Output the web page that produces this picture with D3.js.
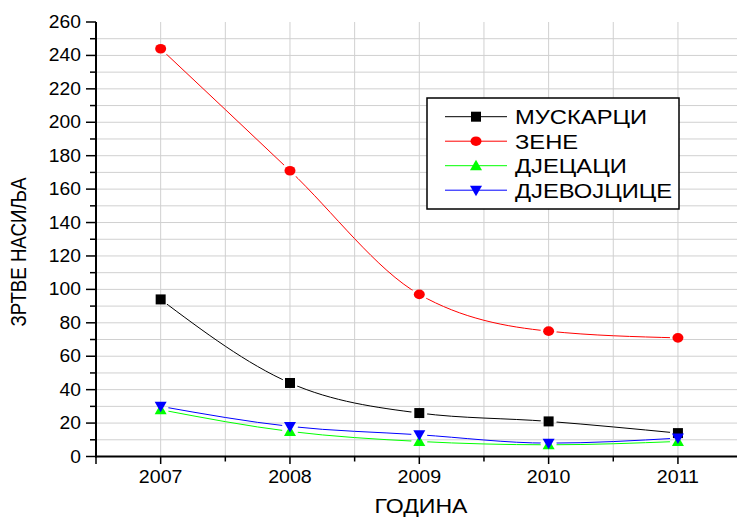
<!DOCTYPE html>
<html>
<head>
<meta charset="utf-8">
<script src="https://cdn.jsdelivr.net/npm/d3@7"></script>
<style>
  body { margin: 0; background: #fff; }
  svg text { font-family: "Liberation Sans", Arial, sans-serif; fill: #000; }
</style>
</head>
<body>
<div id="svg-container"></div>
<script>
let w = 737;
let h = 518;

// data
let years = [2007, 2008, 2009, 2010, 2011];
let muskarci = [94, 44, 26, 21, 14];
let zene = [244, 171, 97, 75, 71];
let djecaci = [28, 15, 9, 7, 9];
let djevojcice = [30, 18, 13, 8, 11];
let seriesNames = ['МУСКАРЦИ', 'ЗЕНЕ', 'ДЈЕЦАЦИ', 'ДЈЕВОЈЦИЦЕ'];
let seriesColors = ['#000000', '#ff0000', '#00ff00', '#0000ff'];
let seriesSymbols = ['square', 'circle', 'up', 'down'];
let yTicks = d3.range(0, 261, 20);
let yMinor = d3.range(10, 260, 20);

let series = [muskarci, zene, djecaci, djevojcice].map((vals, i) => ({
  name: seriesNames[i],
  color: seriesColors[i],
  symbol: seriesSymbols[i],
  points: vals.map((v, j) => ({year: years[j], value: v}))
}));

let x = d3.scaleLinear().domain([2006.5, 2011.5]).range([96, 742.6]);
let y = d3.scaleLinear().domain([0, 260]).range([456.5, 22]);

let svg = d3.select('#svg-container').
append('svg').
attr('width', w).
attr('height', h);

// origin draws its text a bit wider than Arial
function stretch(sel, k) {
  sel.each(function () {
    let len = this.getComputedTextLength();
    d3.select(this).attr('textLength', len * k).attr('lengthAdjust', 'spacingAndGlyphs');
  });
}

// grid
let grid = svg.append('g').attr('stroke', '#d0d0d0').attr('stroke-width', 1);
grid.selectAll('line.h').
data(d3.range(10, 260, 10)).
join('line').
attr('class', 'h').
attr('x1', 96).
attr('x2', w).
attr('y1', d => y(d)).
attr('y2', d => y(d));
grid.selectAll('line.v').
data(d3.range(2007, 2011.6, 0.5)).
join('line').
attr('class', 'v').
attr('x1', d => x(d)).
attr('x2', d => x(d)).
attr('y1', y(260)).
attr('y2', y(0));

// marker shapes
function symbolPath(type) {
  if (type === 'square') return 'M-5,-5H5V5H-5Z';
  if (type === 'circle') return 'M-5.5,0A5.5,4.8 0 1,0 5.5,0A5.5,4.8 0 1,0 -5.5,0Z';
  if (type === 'up') return 'M0,-6L6,4.5H-6Z';
  return 'M0,6L6,-4.5H-6Z';
}

let line = d3.line().
x(d => x(d.year)).
y(d => y(d.value)).
curve(d3.curveMonotoneX);

let defs = svg.append('defs');
series.forEach((s, i) => {
  let m = defs.append('mask').attr('id', 'gap' + i).attr('maskUnits', 'userSpaceOnUse');
  m.append('rect').attr('x', 0).attr('y', 0).attr('width', w).attr('height', h).attr('fill', '#fff');
  m.selectAll('circle').
  data(s.points).
  join('circle').
  attr('cx', d => x(d.year)).
  attr('cy', d => y(d.value)).
  attr('r', 8).
  attr('fill', '#000');
});

series.forEach((s, i) => {
  svg.append('path').
  datum(s.points).
  attr('d', line).
  attr('fill', 'none').
  attr('stroke', s.color).
  attr('stroke-width', 1).
  attr('mask', 'url(#gap' + i + ')');
});

series.forEach(s => {
  svg.append('g').
  selectAll('path').
  data(s.points).
  join('path').
  attr('transform', d => 'translate(' + x(d.year) + ',' + y(d.value) + ')').
  attr('d', symbolPath(s.symbol)).
  attr('fill', s.color);
});

// axes
let ax = svg.append('g').attr('stroke', '#000');
ax.append('line').attr('x1', 96).attr('x2', 96).attr('y1', y(260)).attr('y2', y(0) + 1).attr('stroke-width', 2);
ax.append('line').attr('x1', 95).attr('x2', w).attr('y1', y(0)).attr('y2', y(0)).attr('stroke-width', 2);
ax.selectAll('line.ymaj').
data(yTicks).
join('line').
attr('class', 'ymaj').
attr('x1', 86).attr('x2', 96).
attr('y1', d => y(d)).attr('y2', d => y(d)).
attr('stroke-width', 1.5);
ax.selectAll('line.ymin').
data(yMinor).
join('line').
attr('class', 'ymin').
attr('x1', 90).attr('x2', 96).
attr('y1', d => y(d)).attr('y2', d => y(d)).
attr('stroke-width', 1.5);
ax.selectAll('line.xmaj').
data(years.concat([2006.5])).
join('line').
attr('class', 'xmaj').
attr('x1', d => x(d)).attr('x2', d => x(d)).
attr('y1', y(0)).attr('y2', y(0) + 7.5).
attr('stroke-width', 1.5);
ax.selectAll('line.xmin').
data(d3.range(2007.5, 2011.6, 1)).
join('line').
attr('class', 'xmin').
attr('x1', d => x(d)).attr('x2', d => x(d)).
attr('y1', y(0)).attr('y2', y(0) + 5).
attr('stroke-width', 1.5);

svg.append('g').
selectAll('text').
data(yTicks).
join('text').
attr('x', 81).
attr('y', d => y(d) + 6).
attr('text-anchor', 'end').
style('font-size', '17.5px').
text(d => d).
call(stretch, 1.1);

svg.append('g').
selectAll('text').
data(years).
join('text').
attr('x', d => x(d)).
attr('y', 483).
attr('text-anchor', 'middle').
style('font-size', '17.5px').
text(d => d).
call(stretch, 1.12);

svg.append('text').
attr('x', 421).
attr('y', 513).
attr('text-anchor', 'middle').
attr('textLength', 93).
attr('lengthAdjust', 'spacingAndGlyphs').
style('font-size', '21px').
text('ГОДИНА');

svg.append('text').
attr('transform', 'translate(26,252) rotate(-90)').
attr('text-anchor', 'middle').
attr('textLength', 149).
attr('lengthAdjust', 'spacingAndGlyphs').
style('font-size', '22px').
text('ЗРТВЕ НАСИЉА');

// legend
let legend = svg.append('g');
legend.append('rect').
attr('x', 427).attr('y', 98).
attr('width', 252).attr('height', 111).
attr('fill', '#fff').attr('stroke', '#000').attr('stroke-width', 1.5);

let item = legend.selectAll('g.item').
data(series).
join('g').
attr('class', 'item').
attr('transform', (d, i) => 'translate(0,' + (116.7 + i * 24.5) + ')');
item.append('line').
attr('x1', 445).attr('x2', 507).
attr('stroke', d => d.color).
attr('stroke-width', 1);
item.append('path').
attr('transform', 'translate(476,0)').
attr('d', d => symbolPath(d.symbol)).
attr('fill', d => d.color);
item.append('text').
attr('x', 515).
attr('y', 7.5).
style('font-size', '21px').
text(d => d.name).
call(stretch, 1.13);
</script>
</body>
</html>
